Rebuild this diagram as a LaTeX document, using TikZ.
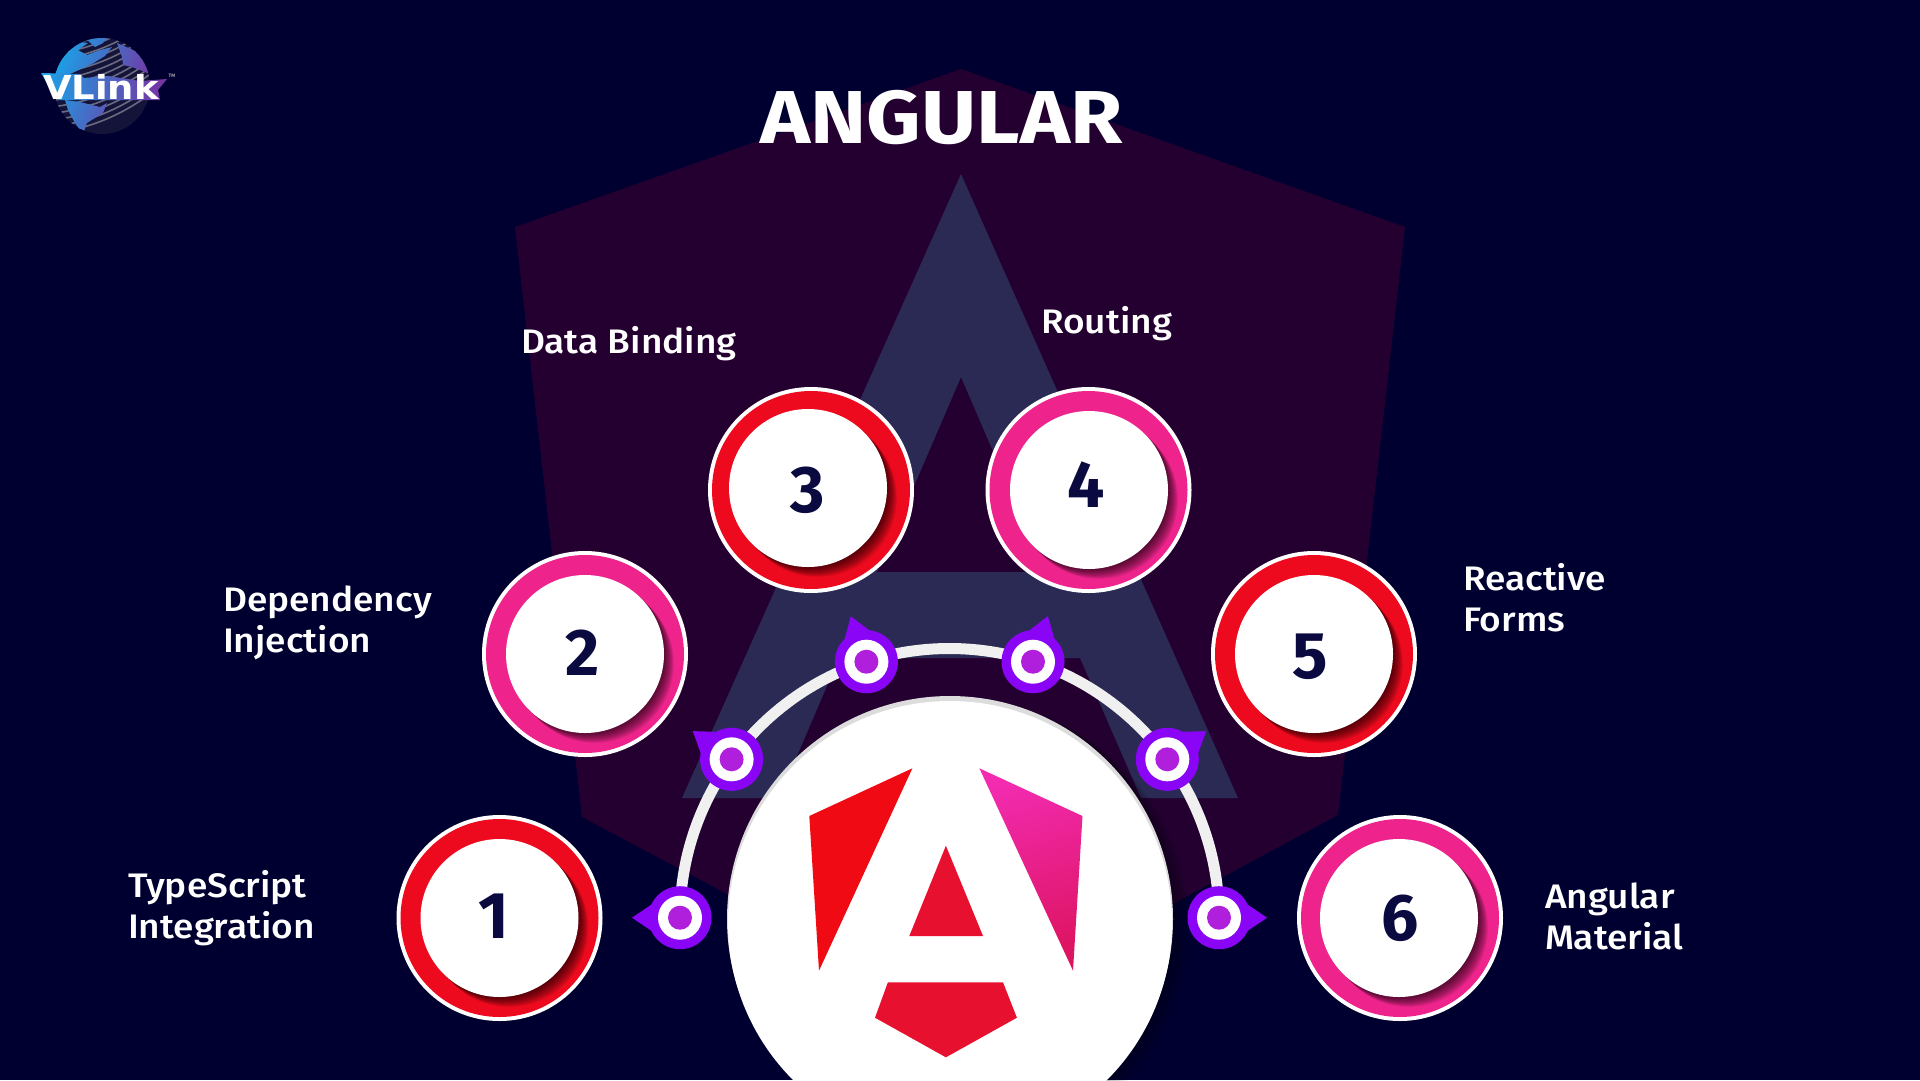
\documentclass[tikz,border=0pt]{standalone}
\usepackage{fontspec}
\setmainfont{Fira Sans}
\newfontfamily\labfont{Fira Sans Medium}
\newfontfamily\logofont{DejaVu Sans}
\definecolor{bgc}{HTML}{000030}
\definecolor{shieldc}{HTML}{240030}
\definecolor{ac}{HTML}{2A2A55}
\definecolor{redc}{HTML}{EE0A1E}
\definecolor{pinkc}{HTML}{EE248C}
\definecolor{navy}{HTML}{0A0A40}
\definecolor{pinc}{HTML}{8A05F5}
\definecolor{pinin}{HTML}{B01FDC}
\definecolor{arcc}{HTML}{F0F0F0}
\definecolor{globedark}{HTML}{14143A}
\definecolor{globeline}{HTML}{6A6A80}
\definecolor{globeblue}{HTML}{18A4E8}
\definecolor{globepurple}{HTML}{7A2FA0}
\definecolor{hubgrey}{HTML}{DCDCDC}
\definecolor{logored}{HTML}{E8102F}
\definecolor{logoredleft}{HTML}{F00A14}
\definecolor{logopinka}{HTML}{F22BB0}
\definecolor{logopinkb}{HTML}{DD1460}
\tikzset{
  labeltext/.style={inner sep=0pt,outer sep=0pt,text=white,align=left,anchor=north west,xscale=1.09,
    font=\labfont\fontsize{34}{41}\selectfont},
  numtext/.style={inner sep=0pt,text=navy,font=\bfseries\fontsize{66}{66}\selectfont},
  ringouter/.style={circle,fill=white,minimum size=206pt,inner sep=0pt,outer sep=0pt},
  ringface/.style={circle,fill=white,minimum size=158pt,inner sep=0pt},
  pinbody/.style={circle,fill=pinc,minimum size=63pt,inner sep=0pt},
  pinwhite/.style={circle,fill=white,minimum size=44pt,inner sep=0pt},
  pindot/.style={circle,fill=pinin,minimum size=24pt,inner sep=0pt},
}
% name, cx, cy, face x, face y, colour, number, num x, num y
\newcommand{\badge}[9]{%
  \node[ringouter] (o#1) at (#2,#3) {};
  \fill[#6] (#2,#3) circle (99);
  \begin{scope}
    \clip (#2,#3) circle (99);
    \foreach \k in {1,...,11}{
      \fill[black,opacity=.08] ({#4+\k*.9},{#5+\k*.9}) circle (79);
    }
  \end{scope}
  \node[ringface] (f#1) at (#4,#5) {};
  \node[numtext] (t#1) at (#8,#9) {#7};
}
\newcommand{\pin}[4]{% name, x, y, tip angle
  \fill[pinc] ({#2+48*cos(#4)},{#3-48*sin(#4)})
     -- ({#2+28*cos(#4+40)},{#3-28*sin(#4+40)})
     -- ({#2+28*cos(#4-40)},{#3-28*sin(#4-40)}) -- cycle;
  \node[pinbody] (p#1) at (#2,#3) {};
  \node[pinwhite] (w#1) at (#2,#3) {};
  \node[pindot] (d#1) at (#2,#3) {};
}
\begin{document}
\begin{tikzpicture}[x=1pt,y=-1pt]
\useasboundingbox (0,0) rectangle (1920,1080);
\clip (0,0) rectangle (1920,1080);
\fill[bgc] (0,0) rectangle (1920,1080);
% background shield and letter
\fill[shieldc] (961,69) -- (1405,227) -- (1338,815) -- (961,1018) -- (582,817) -- (515,227) -- cycle;
\fill[ac,even odd rule] (961,174) -- (1238,798) -- (1141,798) -- (1080,658) -- (839,658) -- (779,798) -- (682,798) -- cycle
  (961,377) -- (1045,572) -- (877,572) -- cycle;
% logo globe
\begin{scope}
  \clip (102,86) circle (48);
  \fill[globedark] (50,30) rectangle (155,140);
  \foreach \a in {0,...,15}{
    \draw[globeline,line width=1.6pt] (55,{133-\a*6.6}) .. controls (90,{128-\a*6.6}) and (120,{116-\a*6.6}) .. (150,{94-\a*6.6});
  }
  \begin{scope}
    \clip (55,72) -- (62,52) -- (80,42) -- (88,43) -- (78,50) -- (87,55) -- (100,50) -- (112,47) -- (105,56) -- (92,64) -- (70,74) -- (58,80) -- cycle
          (65,100) -- (80,102) -- (100,107) -- (107,103) -- (103,113) -- (87,123) -- (83,134) -- (75,123) -- (68,110) -- cycle
          (85,38) -- (107,38) -- (103,43) -- (95,47) -- cycle
          (117,43) -- (133,50) -- (143,58) -- (150,74) -- (140,70) -- (132,67) -- (123,65) -- (122,57) -- cycle;
    \shade[shading=axis,left color=globeblue,right color=globepurple,shading angle=70] (50,30) rectangle (150,140);
  \end{scope}
\end{scope}
\shade[shading=axis,left color=globeblue,right color=globepurple] (41,73) -- (80,74) -- (84,78) -- (108,76) -- (140,81) -- (167,79) -- (158,90) -- (160,100) -- (60,100) -- (55,97) -- cycle;
\node[inner sep=0pt,text=white,xscale=1.12,font=\logofont\bfseries\fontsize{33}{33}\selectfont] (logo) at (101,87) {VLink};
\node[inner sep=0pt,text=white,font=\logofont\fontsize{4.5}{5}\selectfont] (tm) at (172,76) {TM};
% title
\node[inner sep=0pt,anchor=base,text=white,xscale=1.13,font=\bfseries\fontsize{75}{75}\selectfont] (title) at (941.5,143) {ANGULAR};
% labels
\node[labeltext] (lab3) at (521,326) {Data Binding};
\node[labeltext] (lab4) at (1041,306) {Routing};
\node[labeltext] (lab2) at (223,586) {Dependency\\Injection};
\node[labeltext] (lab5) at (1463,563) {Reactive\\Forms};
\node[labeltext] (lab1) at (128,870) {TypeScript\\Integration};
\node[labeltext] (lab6) at (1545,883) {Angular\\Material};
% badges
\badge{1}{499.5}{918}{499.5}{918}{redc}{1}{494}{916}
\badge{2}{585}{654}{585}{654}{pinkc}{2}{583}{653}
\badge{3}{811}{490}{808}{488}{redc}{3}{808}{490}
\badge{4}{1088.5}{490}{1089}{490}{pinkc}{4}{1086.5}{485}
\badge{5}{1314}{654}{1314}{654}{redc}{5}{1310}{657}
\badge{6}{1400}{918}{1399}{918}{pinkc}{6}{1400}{918}
% big circle shadow
\foreach \k in {1,...,8}{
  \fill[black,opacity=.04] ({950+\k*2},{919+\k}) circle (224);
}
% arc connector
\coordinate (arcstart) at (680,918);
\draw[arcc,line width=11pt] (arcstart) arc (180:360:269.5);
% big circle
\fill[hubgrey] (950,919) circle (223);
\node[circle,fill=white,minimum size=444pt,inner sep=0pt] (hub) at (950,923) {};
% logo in circle
\fill[logoredleft] (912.4,768.3) -- (809.3,816) -- (819,970.7) -- cycle;
\shade[shading=axis,top color=logopinka,bottom color=logopinkb,shading angle=15] (979.4,768.3) -- (1082.5,816) -- (1073,970.7) -- cycle;
\fill[logored] (945.9,845.7) -- (983,936) -- (909.3,936) -- cycle;
\fill[logored] (887.9,982.3) -- (1003,982.3) -- (1016.9,1017.7) -- (945.9,1057.3) -- (875,1017.7) -- cycle;
% pins
\pin{1}{680}{917.7}{180}
\pin{2}{731.6}{759.3}{144}
\pin{3}{866.4}{661.7}{109}
\pin{4}{1033}{661.7}{72}
\pin{5}{1167.3}{759.3}{36}
\pin{6}{1219}{917.7}{0}
\end{tikzpicture}
\end{document}
